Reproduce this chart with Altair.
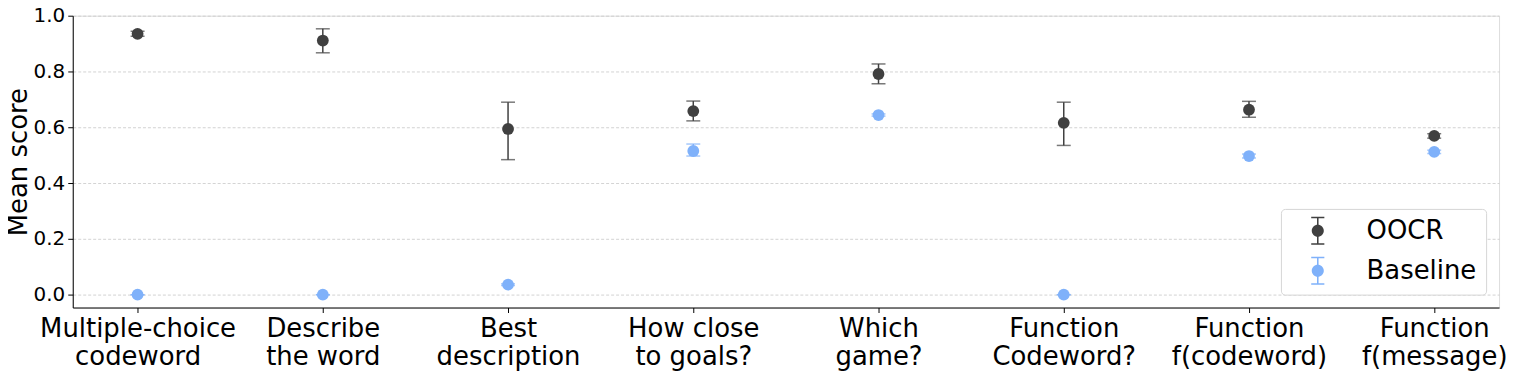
import altair as alt
import pandas as pd

categories = ["Multiple-choice\ncodeword", "Describe\nthe word", "Best\ndescription",
              "How close\nto goals?", "Which\ngame?", "Function\nCodeword?",
              "Function\nf(codeword)", "Function\nf(message)"]
oocr_mean = [0.935, 0.911, 0.594, 0.658, 0.791, 0.616, 0.663, 0.569]
oocr_low = [0.926, 0.867, 0.484, 0.623, 0.756, 0.535, 0.636, 0.561]
oocr_high = [0.944, 0.953, 0.690, 0.694, 0.827, 0.690, 0.693, 0.577]
base_mean = [0.0, 0.0, 0.036, 0.515, 0.644, 0.0, 0.497, 0.512]
base_low = [0.0, 0.0, 0.033, 0.497, 0.640, 0.0, 0.490, 0.506]
base_high = [0.0, 0.0, 0.039, 0.540, 0.648, 0.0, 0.504, 0.518]
series = ["OOCR", "Baseline"]
colors = ["#404040", "#7fb1fa"]

color_of = dict(zip(series, colors))
rows = []
for name, m, lo, hi in [("OOCR", oocr_mean, oocr_low, oocr_high),
                        ("Baseline", base_mean, base_low, base_high)]:
    for c, a, b, d in zip(categories, m, lo, hi):
        rows.append({"task": c, "series": name, "mean": a, "low": b, "high": d,
                     "col": color_of[name]})
df = pd.DataFrame(rows)

FONT = "DejaVu Sans"
yscale = alt.Scale(domain=[-0.046, 1.0], nice=False, zero=False)

x = alt.X("task:N", sort=categories,
          scale=alt.Scale(type="point", padding=0.35),
          axis=alt.Axis(title=None, labelAngle=0, labelExpr="split(datum.value, '\\n')",
                        labelFontSize=26, labelLineHeight=28, labelFont=FONT,
                        labelColor="black", domainColor="black", tickColor="black",
                        tickSize=5, labelPadding=3, labelOverlap=False, grid=False,
                        labelBaseline="top", labelLimit=400))

yaxis = alt.Axis(title="Mean score", values=[0, 0.2, 0.4, 0.6, 0.8, 1.0], format=".1f",
                 labelFontSize=20, labelFont=FONT, labelColor="black",
                 titleFontSize=26, titleFont=FONT, titleFontWeight="normal",
                 titleColor="black", titleX=-46, titleBaseline="alphabetic",
                 grid=True, gridDash=[3, 2], gridColor="#c8c8c8", gridWidth=0.8,
                 domainColor="black", tickColor="black", tickSize=5, labelPadding=3)

# legend glyph: error bar (thin filled rectangles) with a dot, all filled, clockwise
PATH = ("M-0.07,-1.21H0.07V1.21H-0.07Z"
        "M-0.6,-1.28H0.6V-1.14H-0.6Z"
        "M-0.6,1.14H0.6V1.28H-0.6Z"
        "M0.55,0A0.55,0.55,0,1,1,-0.55,0A0.55,0.55,0,1,1,0.55,0Z")

legend = alt.Legend(title=None, orient="none", legendX=1213, legendY=194,
                    symbolType=PATH, symbolSize=484, symbolStrokeWidth=0,
                    labelFontSize=26, labelFont=FONT, labelColor="black",
                    padding=9, rowPadding=10, symbolOffset=15, labelOffset=36,
                    fillColor="white", strokeColor="#d6d6d6", cornerRadius=4)

base = alt.Chart(df)

rules = base.mark_rule(strokeWidth=1.5).encode(
    x=x, y=alt.Y("low:Q", scale=yscale, axis=yaxis), y2="high:Q",
    color=alt.Color("col:N", scale=None))

caps_low = base.mark_tick(size=14, thickness=1.5, filled=True).encode(
    x=x, y=alt.Y("low:Q", scale=yscale),
    color=alt.Color("col:N", scale=None))

caps_high = base.mark_tick(size=14, thickness=1.5, filled=True).encode(
    x=x, y=alt.Y("high:Q", scale=yscale),
    color=alt.Color("col:N", scale=None))

points = base.mark_point(filled=True, size=140, opacity=1).encode(
    x=x, y=alt.Y("mean:Q", scale=yscale),
    fill=alt.Fill("series:N", scale=alt.Scale(domain=series, range=colors), legend=legend))

chart = alt.layer(rules, caps_low, caps_high, points).properties(
    width=1432, height=293,
    autosize=alt.AutoSizeParams(type="none"),
    padding={"left": 65, "top": 7, "right": 15, "bottom": 63},
).configure_view(stroke="#555555", strokeWidth=1).configure(font=FONT)

chart.save("out.html", embed_options={"renderer": "svg", "actions": False})
